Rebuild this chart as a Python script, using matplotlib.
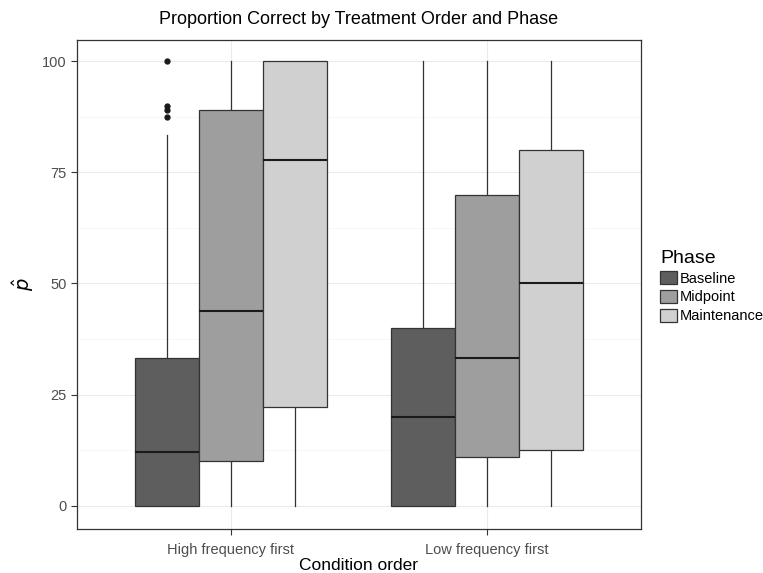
import matplotlib
matplotlib.use("Agg")
import matplotlib.pyplot as plt
from matplotlib.patches import Patch
from matplotlib.ticker import MultipleLocator

plt.rcParams['font.family'] = ['Liberation Sans', 'DejaVu Sans']

groups = ["High frequency first", "Low frequency first"]
phases = ["Baseline", "Midpoint", "Maintenance"]
colors = ["#5e5e5e", "#9e9e9e", "#d0d0d0"]

# per group, per phase: (whislo, q1, med, q3, whishi)
stats_high = [(0, 0, 12, 33.3, 83.3), (0, 10, 43.8, 88.9, 100), (0, 22.2, 77.8, 100, 100)]
stats_low = [(0, 0, 20, 40, 100), (0, 11, 33.3, 70, 100), (0, 12.5, 50, 80, 100)]
fliers_high = [[100, 90, 88.9, 87.5], [], []]
fliers_low = [[], [], []]

fig = plt.figure(figsize=(7.63, 5.73), dpi=100)
ax = fig.add_axes([0.1009, 0.0768, 0.739, 0.853])

width = 0.25
offsets = [-width, 0, width]
for gi, (st, fl) in enumerate([(stats_high, fliers_high), (stats_low, fliers_low)]):
    for pi in range(3):
        lo, q1, med, q3, hi = st[pi]
        d = dict(whislo=lo, q1=q1, med=med, q3=q3, whishi=hi, fliers=fl[pi])
        b = ax.bxp([d], positions=[gi + 1 + offsets[pi]], widths=width, patch_artist=True,
                   showcaps=False,
                   boxprops=dict(facecolor=colors[pi], edgecolor="#333333", linewidth=0.9),
                   medianprops=dict(color="#1a1a1a", linewidth=1.5),
                   whiskerprops=dict(color="#333333", linewidth=0.9),
                   flierprops=dict(marker="o", markerfacecolor="#1a1a1a", markeredgecolor="#1a1a1a",
                                   markersize=3.5, linestyle="none"))
        for bx in b['boxes']:
            bx.set_zorder(3)
        for m in b['medians']:
            m.set_zorder(4)

ax.set_xlim(0.4, 2.6)
ax.set_ylim(-5.2, 104.7)
ax.set_xticks([1, 2])
ax.set_xticklabels(groups)
ax.set_yticks([0, 25, 50, 75, 100])
ax.yaxis.set_minor_locator(MultipleLocator(12.5))
ax.grid(True, which="major", color="#ebebeb", linewidth=0.8, zorder=0)
ax.grid(True, which="minor", axis="y", color="#f4f4f4", linewidth=0.5, zorder=0)
ax.set_axisbelow(True)
ax.tick_params(axis="both", which="major", labelsize=10.5, labelcolor="#4d4d4d", color="#333333", length=4)
ax.tick_params(axis="x", pad=6)
ax.tick_params(axis="y", which="minor", length=0)
for s in ax.spines.values():
    s.set_color("#333333")
    s.set_linewidth(0.9)

ax.set_title("Proportion Correct by Treatment Order and Phase", fontsize=13, pad=12)
ax.set_xlabel("Condition order", fontsize=12.5, labelpad=1)
ax.set_ylabel(r"$\hat{p}$", fontsize=14, labelpad=4)

handles = [Patch(facecolor=c, edgecolor="#333333", linewidth=0.9) for c in colors]
leg = fig.legend(handles, phases, title="Phase", loc="center left", bbox_to_anchor=(0.858, 0.5),
                 frameon=False, fontsize=10.5, title_fontsize=14, handlelength=1.1, handleheight=1.0,
                 handletextpad=0.2, labelspacing=0.3, borderaxespad=0)
leg._legend_box.align = "left"

fig.savefig("out.png", dpi=100)
